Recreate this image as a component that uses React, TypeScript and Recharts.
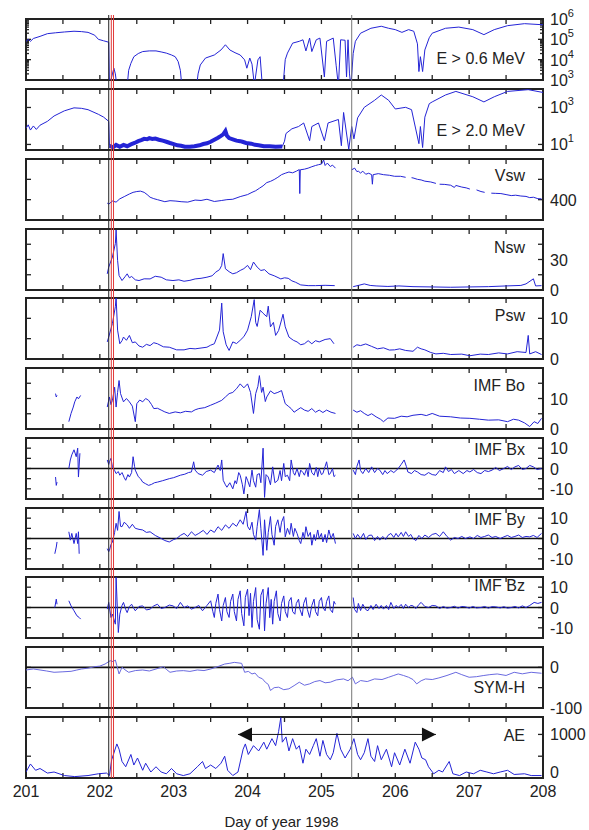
import React from 'react';
import { LineChart, Line, XAxis, YAxis, ReferenceLine, ReferenceDot, ReferenceArea } from 'recharts';

type Pt = [number, number | null];

// ---------- x axis ----------
const dayTicks = [201, 201.5, 202, 202.5, 203, 203.5, 204, 204.5, 205, 205.5, 206, 206.5, 207, 207.5, 208];
const dayLabels = [201, 202, 203, 204, 205, 206, 207, 208];

// ---------- event markers (day of year) ----------
const shockLine = 202.12;
const redLines = [202.155, 202.185];
const grayLine = 205.41;
const aeArrow = { from: 203.87, to: 206.55, level: 1000 };

// ---------- series ----------
const e06: Pt[] = [
  [201.0, 7.9e4], [201.03, 1.0e5], [201.06, 8e4], [201.1, 1.1e5], [201.19, 1.4e5], [201.29, 1.9e5], [201.4, 2.1e5],
  [201.52, 2.3e5], [201.65, 2.5e5], [201.75, 2.4e5], [201.84, 2.2e5], [201.93, 1.6e5], [201.98, 1.0e5], [202.05, 8.5e4],
  [202.12, 7.2e4], [202.13, 500], [202.17, 2.0e3], [202.19, 3.8e3], [202.21, 2.0e3], [202.23, 500], [202.37, 500],
  [202.39, 3.0e3], [202.42, 6.6e3], [202.46, 1.4e4], [202.52, 2.0e4], [202.58, 2.5e4], [202.67, 2.7e4], [202.76, 2.7e4],
  [202.83, 2.4e4], [202.9, 2.1e4], [202.97, 1.7e4], [203.02, 1.4e4], [203.06, 8.1e3], [203.09, 3e3], [203.11, 500],
  [203.31, 500], [203.33, 2.0e3], [203.36, 5.5e3], [203.43, 1.2e4], [203.55, 1.7e4], [203.64, 3.0e4], [203.7, 5.4e4],
  [203.76, 3.0e4], [203.83, 2.2e4], [203.9, 1.7e4], [203.96, 9.8e3], [203.99, 3.8e3], [204.03, 1.2e4], [204.06, 6e3],
  [204.08, 1.4e3], [204.09, 500], [204.14, 9.8e3], [204.17, 1.4e4], [204.2, 500], [204.48, 500], [204.51, 1e4],
  [204.54, 2.1e4], [204.61, 6.5e4], [204.7, 8e4], [204.75, 9.5e4], [204.79, 2.7e4], [204.84, 1.15e5], [204.87, 2.5e4],
  [204.93, 9.5e4], [204.98, 1.15e5], [205.04, 1.4e3], [205.07, 8e4], [205.16, 1.15e5], [205.2, 5e3], [205.23, 500],
  [205.26, 9.5e4], [205.32, 9e4], [205.34, 1.4e3], [205.36, 9.5e4], [205.38, 2e3], [205.4, 500], [205.43, 2e4],
  [205.46, 8e4], [205.53, 2.0e5], [205.67, 3.5e5], [205.81, 4.4e5], [205.91, 3.5e5], [206.0, 3.0e5], [206.09, 2.2e5],
  [206.18, 3.0e5], [206.25, 2.5e5], [206.3, 6e4], [206.32, 2.6e3], [206.34, 1.4e4], [206.37, 2.6e3], [206.4, 3e4],
  [206.46, 1.2e5], [206.5, 2.0e5], [206.68, 3.5e5], [206.86, 4.0e5], [207.05, 3.0e5], [207.2, 1.7e5], [207.34, 3.0e5],
  [207.52, 4.7e5], [207.75, 5.9e5], [208.0, 5.2e5],
];

const e20: Pt[] = [
  [201.0, 74], [201.03, 115], [201.06, 60], [201.1, 100], [201.14, 65], [201.19, 110], [201.29, 178], [201.38, 347],
  [201.52, 660], [201.65, 955], [201.75, 900], [201.84, 760], [201.98, 427], [202.05, 302], [202.12, 178], [202.13, 8.5],
  [202.14, null],
  [204.47, 7.7], [204.5, 15], [204.52, 39], [204.6, 70], [204.69, 93], [204.76, 145], [204.84, 16], [204.87, 93],
  [204.96, 145], [205.04, 16], [205.09, 145], [205.23, 224], [205.27, 8.5], [205.3, 537], [205.37, 5.5], [205.41, 93],
  [205.44, 20], [205.49, 275], [205.58, 1020], [205.72, 2450], [205.81, 4750], [205.91, 2450], [206.0, 830],
  [206.14, 1020], [206.22, 760], [206.32, 11], [206.34, 93], [206.37, 6.8], [206.4, 300], [206.46, 1600], [206.5, 2000],
  [206.68, 4750], [206.82, 7400], [207.05, 3800], [207.2, 2000], [207.34, 3800], [207.52, 7400], [207.8, 9200],
  [208.0, 6500],
];

const e20Floor: Pt[] = [
  [202.13, 8.5], [202.18, 7], [202.22, 9.5], [202.27, 7.5], [202.32, 9.5], [202.37, 8], [202.42, 10], [202.47, 12],
  [202.52, 15], [202.56, 17], [202.6, 20], [202.64, 19], [202.67, 22], [202.71, 20], [202.75, 21], [202.8, 18],
  [202.85, 16], [202.9, 14], [202.95, 12], [203.0, 10.5], [203.05, 9], [203.1, 8.5], [203.15, 7.5], [203.22, 7.4],
  [203.28, 8], [203.35, 9], [203.4, 10.5], [203.45, 11.5], [203.5, 14], [203.55, 18], [203.6, 23], [203.64, 29],
  [203.67, 35], [203.7, 53], [203.72, 30], [203.75, 22], [203.8, 19], [203.85, 16], [203.9, 15], [203.93, 14],
  [203.98, 12], [204.05, 11], [204.1, 9.5], [204.15, 9.1], [204.22, 8], [204.3, 8], [204.38, 7.5], [204.47, 7.7],
];

const vsw: Pt[] = [
  [202.1, 383], [202.12, 378], [202.17, 393], [202.22, 388], [202.27, 404], [202.33, 415], [202.4, 428], [202.45, 436],
  [202.5, 440], [202.55, 442], [202.6, 436], [202.64, 425], [202.68, 412], [202.73, 405], [202.78, 400], [202.88, 390],
  [202.95, 395], [203.03, 393], [203.1, 390], [203.19, 388], [203.29, 398], [203.37, 396], [203.45, 402], [203.55, 391],
  [203.65, 396], [203.72, 400], [203.8, 402], [203.9, 415], [204.0, 425], [204.06, 436], [204.11, 444], [204.16, 456],
  [204.21, 468], [204.26, 484], [204.31, 490], [204.36, 499], [204.41, 510], [204.46, 523], [204.51, 530], [204.56, 536],
  [204.61, 532], [204.66, 540], [204.7, 548], [204.707, 430], [204.714, 547], [204.77, 550], [204.82, 555], [204.87, 562],
  [204.92, 568], [204.96, 572], [205.0, 575], [205.03, 595], [205.05, 568], [205.08, 580], [205.12, 563], [205.15, 570],
  [205.19, 555], [205.2, null], [205.41, 547], [205.45, 555], [205.48, 538], [205.5, 540], [205.53, 531], [205.56, 540],
  [205.6, 525], [205.64, 530], [205.68, 523], [205.69, 476], [205.7, 523], [205.77, 528], [205.84, 523], [205.92, 520],
  [205.99, 515], [206.07, 515], [206.14, 510], [206.2, null], [206.22, 508], [206.24, 507], [206.3, 500], [206.35, 497],
  [206.4, 491], [206.48, 487], [206.55, 480], [206.57, null], [206.6, 476], [206.67, 475], [206.75, 471], [206.8, 460],
  [206.82, 470], [206.9, 462], [206.96, 458], [207.01, 452], [207.05, null], [207.1, 448], [207.16, 440], [207.21, 436],
  [207.25, null], [207.3, 432], [207.36, 431], [207.43, 430], [207.5, 425], [207.57, 420], [207.63, 422], [207.7, 418],
  [207.77, 416], [207.82, 410], [207.87, 412], [207.93, 405], [207.98, 404],
];

const nsw: Pt[] = [
  [202.1, 15.9], [202.12, 22.5], [202.17, 32.5], [202.21, 45.7], [202.22, 59], [202.24, 29.2], [202.26, 14.3],
  [202.3, 9.3], [202.34, 13], [202.37, 15.9], [202.4, 12], [202.43, 13.3], [202.48, 10], [202.53, 9.3], [202.6, 11],
  [202.68, 10.9], [202.75, 13.5], [202.83, 12.6], [202.9, 10], [202.99, 9.3], [203.07, 10], [203.14, 8.6], [203.22, 9.5],
  [203.29, 10.9], [203.37, 11.5], [203.45, 12.6], [203.52, 14], [203.57, 17.6], [203.62, 20], [203.65, 24.2],
  [203.67, 35.8], [203.7, 20.9], [203.75, 18], [203.8, 15.9], [203.85, 17], [203.9, 19.2], [203.95, 21], [204.0, 24.2],
  [204.04, 20], [204.08, 27.5], [204.13, 22.5], [204.18, 19.2], [204.23, 20], [204.29, 15.9], [204.36, 14],
  [204.45, 10.9], [204.5, 12], [204.55, 11.5], [204.6, 9], [204.65, 7.6], [204.72, 5.0], [204.82, 4.3], [204.92, 4.3],
  [205.05, 4.6], [205.18, 4.3], [205.2, null], [205.43, 3.3], [205.5, 4.5], [205.58, 6.0], [205.66, 4.5], [205.74, 4.0],
  [205.9, 3.5], [206.05, 4], [206.24, 3.3], [206.5, 3], [206.75, 2.7], [207.0, 3], [207.26, 3.3], [207.5, 4],
  [207.7, 4.5], [207.77, 6.0], [207.87, 11], [207.9, 4.0], [207.98, 4.3],
];

const psw: Pt[] = [
  [202.1, 4.2], [202.12, 5.4], [202.17, 8.75], [202.21, 12.9], [202.22, 15.2], [202.24, 7.1], [202.27, 3.75],
  [202.3, 4.5], [202.32, 5.4], [202.36, 4.6], [202.4, 5.8], [202.44, 4], [202.48, 4.2], [202.53, 3.2], [202.58, 2.9],
  [202.63, 3.6], [202.68, 3.3], [202.73, 4], [202.78, 3.75], [202.86, 3], [202.94, 2.9], [203.04, 2.25], [203.14, 2.25],
  [203.22, 2.6], [203.29, 2.5], [203.37, 2.7], [203.45, 2.9], [203.5, 3.4], [203.55, 3.75], [203.62, 7.1],
  [203.65, 13.75], [203.67, 6.7], [203.71, 3.5], [203.75, 2.1], [203.8, 4.2], [203.85, 3.8], [203.9, 4.6], [203.95, 5.5],
  [204.0, 7.1], [204.05, 10.4], [204.09, 14.6], [204.11, 9], [204.13, 8], [204.17, 12], [204.21, 11.25], [204.26, 10.4],
  [204.28, 13], [204.31, 7.9], [204.35, 9], [204.38, 5.8], [204.42, 7], [204.46, 9.6], [204.48, 11], [204.51, 7.9],
  [204.56, 5.4], [204.62, 4.6], [204.67, 4.2], [204.72, 3.5], [204.77, 3.75], [204.82, 4.5], [204.87, 3.75],
  [204.92, 4.5], [204.97, 4.2], [205.05, 4.8], [205.12, 5.0], [205.17, 3.75], [205.2, null], [205.43, 2.9],
  [205.48, 3.5], [205.53, 3.3], [205.6, 3.7], [205.68, 3.1], [205.76, 2.5], [205.84, 2.75], [205.92, 2.2],
  [205.99, 2.25], [206.06, 2.5], [206.14, 2.1], [206.24, 1.9], [206.3, 2.9], [206.35, 2.5], [206.4, 2.25], [206.48, 1.6],
  [206.55, 1.25], [206.65, 1.4], [206.75, 1.1], [206.9, 1.2], [207.01, 0.8], [207.15, 1.2], [207.26, 1.1], [207.4, 1.5],
  [207.52, 1.25], [207.65, 1.8], [207.77, 1.6], [207.8, 5.8], [207.82, 1.25], [207.9, 1.8], [207.98, 1.1],
];

const imfBo: Pt[] = [
  [201.4, 11.6], [201.41, 10.5], [201.42, 11.0], [201.45, null],
  [201.58, 2.4], [201.61, 5.1], [201.64, 7.2], [201.66, 8.9], [201.69, 10.5], [201.71, 9.9], [201.74, 11.0], [201.76, null],
  [202.1, 7.2], [202.13, 10.5], [202.15, 8], [202.17, 9.4], [202.2, 13.7], [202.22, 7.2], [202.24, 12], [202.26, 15.9],
  [202.28, 11.6], [202.32, 8.9], [202.36, 10], [202.4, 8.9], [202.44, 7.5], [202.48, 2.4], [202.5, 8.3], [202.54, 9.5],
  [202.58, 8.9], [202.62, 10], [202.66, 9.4], [202.7, 8], [202.73, 6.7], [202.78, 6.8], [202.83, 6.2], [202.88, 5.6],
  [202.94, 5.1], [203.02, 5.6], [203.09, 5.3], [203.16, 5.8], [203.24, 5.6], [203.29, 6.3], [203.34, 6.7], [203.42, 7],
  [203.5, 7.8], [203.57, 8.5], [203.65, 9.4], [203.7, 10.5], [203.75, 11.6], [203.8, 12], [203.85, 13.2], [203.9, 14.8],
  [203.95, 13.5], [204.0, 14.8], [204.04, 12], [204.08, 5.1], [204.11, 11.6], [204.14, 14], [204.16, 17.5], [204.19, 12],
  [204.21, 13.7], [204.24, 9], [204.26, 10.5], [204.31, 12.5], [204.36, 11.6], [204.41, 12], [204.46, 12.6], [204.49, 10],
  [204.51, 8.3], [204.55, 7.5], [204.59, 6.7], [204.63, 5.5], [204.67, 6.2], [204.72, 7], [204.77, 6.2], [204.82, 5.8],
  [204.87, 6.7], [204.92, 5.5], [204.97, 6.2], [205.02, 5.4], [205.07, 6.2], [205.13, 5.5], [205.19, 5.1], [205.2, null],
  [205.43, 6.2], [205.48, 5.5], [205.53, 6], [205.58, 5.1], [205.63, 4.4], [205.68, 5], [205.74, 4.0], [205.8, 3.2],
  [205.84, 2.4], [205.9, 3.6], [205.99, 3.5], [206.08, 4.2], [206.16, 4], [206.24, 4.5], [206.35, 4.8], [206.42, 4.4],
  [206.5, 5.1], [206.6, 4.2], [206.75, 4.0], [206.88, 3.6], [207.01, 3.5], [207.14, 3.2], [207.26, 2.9], [207.4, 3],
  [207.52, 2.4], [207.6, 3.2], [207.67, 2.9], [207.75, 2], [207.82, 0.8], [207.88, 2.4], [207.93, 1.8], [207.98, 3.5],
];

const imfBx: Pt[] = [
  [201.4, -4.2], [201.41, -8.3], [201.42, -6.7], [201.45, null],
  [201.58, 0], [201.6, 4.2], [201.62, 6.7], [201.65, 9.2], [201.68, 5.8], [201.7, 10], [201.71, -4.2], [201.73, 7.5],
  [201.76, null],
  [202.1, 4.2], [202.12, 2], [202.13, 3.3], [202.15, 5], [202.17, 0.8], [202.2, -1], [202.22, -2.5], [202.25, -1.5],
  [202.27, -3.3], [202.3, -2], [202.33, -4.5], [202.35, -5.8], [202.38, -3], [202.4, -4.2], [202.43, -2], [202.45, 5.8],
  [202.47, 1], [202.48, -0.8], [202.52, -4], [202.55, -5], [202.58, -6.7], [202.62, -7.5], [202.66, -8.3], [202.7, -7.8],
  [202.74, -7], [202.78, -6.7], [202.85, -6], [202.94, -5], [203.0, -4.5], [203.09, -3.3], [203.15, -2.8], [203.2, -2],
  [203.24, -1.7], [203.27, 3.3], [203.29, -0.8], [203.33, -2.5], [203.39, -3.3], [203.44, -1.5], [203.5, -0.8],
  [203.55, -2], [203.6, 1.7], [203.63, -1], [203.65, 4.2], [203.67, -5.8], [203.7, -8], [203.72, -9.2], [203.76, -7],
  [203.8, -10], [203.83, -6], [203.85, -7.5], [203.88, -2], [203.9, -3.3], [203.93, -8], [203.95, -12.5], [203.98, -4],
  [204.0, -5.8], [204.03, -9], [204.06, -0.8], [204.08, -6], [204.11, -9.2], [204.13, -3], [204.16, -2.5], [204.18, -7],
  [204.21, 10], [204.23, -14.2], [204.25, -3], [204.28, -4.2], [204.31, -8], [204.34, 0.8], [204.37, -7], [204.41, -5.8],
  [204.44, -1], [204.46, -6], [204.49, 2.5], [204.51, -4], [204.54, -3.3], [204.57, -6], [204.59, 4.2], [204.62, -2],
  [204.64, -3.3], [204.67, 0], [204.7, -4], [204.72, -0.8], [204.75, -2], [204.77, -3.3], [204.8, 0], [204.82, -4],
  [204.84, 2.5], [204.87, -2], [204.9, -3.3], [204.93, 0.5], [204.95, -4], [204.97, 0], [205.0, -3], [205.02, -2.5],
  [205.05, 1], [205.07, 3.3], [205.1, -3], [205.12, -2.5], [205.15, 0], [205.17, -4], [205.19, -3.3], [205.2, null],
  [205.43, -0.8], [205.46, -3], [205.48, 1], [205.51, 4.2], [205.53, -1], [205.56, -2.5], [205.6, 0], [205.64, -2],
  [205.68, 0.8], [205.72, -2], [205.76, 0], [205.79, -0.8], [205.83, -3], [205.86, -1], [205.89, -2.5], [205.94, -1],
  [205.98, -2], [206.04, 0], [206.08, 2], [206.12, 4.2], [206.15, 1], [206.17, -1.7], [206.22, -2.5], [206.26, -1],
  [206.3, -1.7], [206.35, -3], [206.4, -3.3], [206.45, -2], [206.5, -3], [206.55, -3.3], [206.6, -1], [206.65, -2],
  [206.68, 0.8], [206.72, -1.5], [206.76, -0.5], [206.8, -2.5], [206.86, -1], [206.92, -2.5], [206.97, -1],
  [207.01, -1.7], [207.06, -0.5], [207.11, -2], [207.16, -2.5], [207.21, -1], [207.26, -1.5], [207.31, -0.8],
  [207.36, 0.5], [207.41, -1], [207.47, 0], [207.52, 1], [207.57, -0.5], [207.62, 0.8], [207.67, 1.5], [207.72, -0.5],
  [207.77, 0], [207.82, 1.5], [207.87, 0.8], [207.92, -0.5], [207.98, 0],
];

const imfBy: Pt[] = [
  [201.39, -7.5], [201.41, -4.2], [201.42, -1.7], [201.45, null],
  [201.58, 3.3], [201.6, -0.8], [201.62, 2.5], [201.65, -2.5], [201.68, 2.5], [201.7, -2.5], [201.71, 3.3],
  [201.72, -7.5], [201.76, null],
  [202.1, -5], [202.12, -6.5], [202.13, -5.8], [202.15, -3], [202.17, -1.7], [202.2, 3], [202.22, 7.5], [202.24, 4],
  [202.26, 13.3], [202.28, 6], [202.3, 5.8], [202.33, 8], [202.37, 6.7], [202.4, 5], [202.44, 7], [202.48, 5],
  [202.53, 4.5], [202.58, 4.2], [202.63, 3], [202.68, 3.3], [202.75, 1.5], [202.83, 0], [202.88, -1], [202.94, -1.7],
  [203.0, -0.5], [203.04, 0], [203.09, 1.5], [203.14, 2.5], [203.19, 1], [203.24, 3.3], [203.29, 1.5], [203.34, 2.5],
  [203.4, 4], [203.45, 2], [203.5, 4.2], [203.55, 3], [203.6, 5.8], [203.65, 4], [203.7, 6.7], [203.75, 5], [203.8, 7.5],
  [203.85, 6], [203.9, 9.2], [203.94, 7], [203.98, 13.3], [204.0, 6], [204.03, 4.2], [204.06, 8], [204.08, 2],
  [204.11, -0.8], [204.13, 6], [204.16, 14.2], [204.18, 5], [204.21, -8.3], [204.23, 9.2], [204.26, -5.8], [204.28, 3],
  [204.31, 10.8], [204.33, 2], [204.36, -3.3], [204.38, 6], [204.41, 9.2], [204.44, 3], [204.46, 8], [204.49, 10.8],
  [204.51, 0.8], [204.54, 5], [204.57, 2], [204.59, 7.5], [204.62, 1], [204.64, 5], [204.67, 2.5], [204.7, -1],
  [204.72, -2.5], [204.75, 3], [204.77, 0], [204.79, 5.8], [204.82, 1], [204.85, 3], [204.87, -3.3], [204.9, 2],
  [204.92, -1], [204.95, 4.2], [204.97, 0], [205.0, 2.5], [205.02, -1.7], [205.05, 2], [205.07, -2], [205.1, 4.2],
  [205.13, 0], [205.16, 2.5], [205.19, -2.5], [205.2, null],
  [205.43, 2.5], [205.46, 0], [205.49, 2], [205.53, 0], [205.57, 2.5], [205.6, -0.5], [205.64, 1.5], [205.68, 1.7],
  [205.72, -1], [205.76, 1], [205.79, -0.8], [205.83, 1], [205.87, -0.5], [205.9, 1.5], [205.94, 2.5], [205.98, 0.5],
  [206.01, 2.5], [206.04, 0.8], [206.08, 3], [206.11, 1], [206.14, 3.3], [206.18, 1], [206.21, 2], [206.24, 0],
  [206.28, -1], [206.32, 1.5], [206.36, 0], [206.4, 1.7], [206.45, 0.5], [206.5, 2], [206.55, 2.5], [206.6, 1],
  [206.65, 3.3], [206.7, 1], [206.75, -0.8], [206.8, 0.5], [206.85, 0], [206.9, 1], [206.95, 0], [207.01, 0.8],
  [207.06, 0], [207.11, 1.5], [207.16, 0.5], [207.21, 1], [207.26, 1.7], [207.31, 0.5], [207.36, 1], [207.42, 0],
  [207.47, 0.8], [207.52, 1.5], [207.57, 0.5], [207.62, 1], [207.67, 1.7], [207.72, 0.5], [207.77, 1], [207.82, 0.8],
  [207.87, 1.5], [207.92, 0.5], [207.98, 2.5],
];

const imfBz: Pt[] = [
  [201.39, 0], [201.41, 4.1], [201.42, 1.6], [201.45, null],
  [201.58, 3.3], [201.61, 0.8], [201.65, -1.6], [201.69, -4.1], [201.72, -4.9], [201.74, -5.7], [201.76, null],
  [202.1, -0.8], [202.12, 2.5], [202.15, -4.9], [202.17, -3.3], [202.21, -8.2], [202.22, 14.8], [202.25, -12.3],
  [202.27, -3.3], [202.3, 1], [202.32, 2.5], [202.35, -1], [202.37, -2.5], [202.4, 0.5], [202.43, 1.6], [202.46, -0.5],
  [202.48, -1.6], [202.53, 0.5], [202.58, 0.8], [202.63, -1.2], [202.68, -0.8], [202.73, 0.8], [202.78, 1.6],
  [202.83, -0.5], [202.88, 0], [202.94, 1.2], [202.99, 0.8], [203.04, -0.5], [203.09, 2.5], [203.14, 0], [203.19, 0.8],
  [203.24, -0.8], [203.29, 0], [203.34, 1], [203.39, -1.6], [203.45, 1], [203.5, 3.3], [203.53, -2], [203.55, -4.9],
  [203.57, 2], [203.6, 6.6], [203.62, -1], [203.65, -6.6], [203.67, 1], [203.7, 4.9], [203.72, -2], [203.75, -4.9],
  [203.77, 3], [203.8, 6.6], [203.82, -2], [203.85, -6.6], [203.87, 4], [203.9, 8.2], [203.92, -3], [203.95, -9],
  [203.97, 5], [204.0, 9], [204.02, -4], [204.04, 7], [204.06, -9.8], [204.08, 3], [204.11, 9.8], [204.13, -6],
  [204.16, -10.7], [204.18, 6], [204.21, 9], [204.23, -11.5], [204.25, 2], [204.28, 9.8], [204.3, -5], [204.32, 4],
  [204.34, -8.2], [204.36, 3], [204.39, 8.2], [204.41, -3], [204.44, -6.6], [204.46, 2], [204.49, 5.7], [204.51, -2],
  [204.54, -4.9], [204.56, 3], [204.59, 4.9], [204.61, -2], [204.64, -3.3], [204.66, 2], [204.69, 4.1], [204.71, -1],
  [204.74, -4.1], [204.76, 2], [204.79, 4.9], [204.81, -1], [204.84, -4.9], [204.87, 1], [204.9, 4.1], [204.92, -2],
  [204.95, -4.1], [204.97, 3], [205.0, 4.9], [205.02, 0], [205.05, -1.6], [205.07, 3], [205.1, 5.7], [205.12, -1],
  [205.15, -2.5], [205.17, 3], [205.19, 1.6], [205.2, null],
  [205.43, 4.9], [205.45, -1], [205.48, -2.5], [205.5, 2], [205.53, -1.5], [205.56, 1.6], [205.6, -1], [205.63, -1.6],
  [205.67, 1], [205.7, -1], [205.74, 1.6], [205.78, -0.5], [205.81, 1], [205.84, -0.8], [205.88, 1], [205.91, -1],
  [205.94, 2.5], [205.98, -0.5], [206.01, 1], [206.04, 0], [206.08, 1.5], [206.11, -0.5], [206.14, 1.6], [206.18, 0],
  [206.21, 1], [206.24, 0.8], [206.28, -0.5], [206.32, 1.5], [206.35, 2.5], [206.4, 0.5], [206.45, 0], [206.5, 1],
  [206.55, 0.8], [206.6, -0.5], [206.65, 0.5], [206.7, -0.3], [206.75, 0], [206.8, 0.6], [206.85, -0.3], [206.9, 0.5],
  [206.95, 0.3], [207.0, -0.3], [207.05, 0.5], [207.1, -0.2], [207.16, 0], [207.21, 0.5], [207.26, -0.3], [207.31, 0.4],
  [207.36, 0.3], [207.42, -0.2], [207.47, 0.4], [207.52, -0.3], [207.57, 0], [207.62, 0.5], [207.67, -0.2],
  [207.72, 0.8], [207.77, 0], [207.82, 1], [207.88, 2.5], [207.93, 2.0], [207.98, 2.5],
];

const symH: Pt[] = [
  [201.0, -6.5], [201.1, -4], [201.19, -6.5], [201.28, -9], [201.38, -12.2], [201.5, -11], [201.61, -9.8], [201.68, -7],
  [201.75, -4.1], [201.84, -2], [201.93, 1.6], [202.0, 3], [202.07, 8.1], [202.14, 16.3], [202.18, 14], [202.21, 17.9],
  [202.23, 4.1], [202.26, -16.3], [202.3, 0], [202.34, -6], [202.39, -12.2], [202.48, -8], [202.58, -6.5], [202.67, -9],
  [202.76, -4.1], [202.86, 1.6], [202.9, -5], [202.95, -12.2], [203.04, -9], [203.13, -8.1], [203.22, -10], [203.32, -6.5],
  [203.41, -8], [203.5, -4.1], [203.6, 2], [203.69, 8.1], [203.76, 10], [203.82, 12.2], [203.92, 9.8], [203.96, -12.2],
  [204.01, -10], [204.06, -16.3], [204.1, -14], [204.15, -24.4], [204.2, -28], [204.24, -36.6], [204.28, -42],
  [204.31, -56.9], [204.36, -50], [204.42, -48.8], [204.49, -55], [204.56, -52.8], [204.63, -45], [204.7, -36.6],
  [204.77, -44], [204.84, -40.7], [204.91, -35], [204.98, -32.5], [205.05, -38], [205.12, -36.6], [205.2, -31],
  [205.3, -28.5], [205.36, -33], [205.42, -24.4], [205.46, -40.7], [205.53, -32.5], [205.62, -35], [205.72, -28.5],
  [205.82, -30], [205.91, -24.4], [205.98, -20], [206.04, -16.3], [206.11, -20], [206.18, -24.4], [206.24, -30],
  [206.29, -40.7], [206.35, -33], [206.41, -28.5], [206.5, -30], [206.59, -26], [206.7, -20], [206.82, -12.2],
  [206.9, -18], [207.0, -24.4], [207.1, -23], [207.19, -20.3], [207.28, -18], [207.38, -16.3], [207.5, -20],
  [207.61, -12.2], [207.72, -16], [207.84, -12.2], [207.98, -14.6],
];

const ae: Pt[] = [
  [201.0, 137], [201.06, 322], [201.13, 177], [201.19, 218], [201.29, 113], [201.38, 137], [201.52, 56], [201.66, 32],
  [201.84, 56], [201.98, 97], [202.09, 113], [202.13, 56], [202.16, 419], [202.23, 782], [202.26, 661], [202.3, 379],
  [202.35, 258], [202.42, 540], [202.46, 298], [202.51, 459], [202.58, 177], [202.62, 339], [202.69, 137],
  [202.76, 258], [202.83, 137], [202.9, 97], [202.97, 218], [203.04, 97], [203.13, 56], [203.22, 97], [203.32, 258],
  [203.39, 379], [203.43, 218], [203.5, 298], [203.57, 218], [203.64, 339], [203.69, 500], [203.73, 177], [203.8, 56],
  [203.87, 137], [203.94, 661], [203.97, 782], [204.01, 540], [204.08, 742], [204.15, 621], [204.22, 822],
  [204.26, 661], [204.33, 903], [204.38, 742], [204.42, 1064], [204.45, 1386], [204.47, 822], [204.52, 943],
  [204.56, 621], [204.61, 903], [204.66, 661], [204.7, 742], [204.75, 339], [204.79, 661], [204.84, 540],
  [204.89, 742], [204.93, 903], [204.98, 500], [205.02, 862], [205.07, 540], [205.12, 419], [205.16, 580],
  [205.21, 1024], [205.26, 661], [205.32, 459], [205.39, 661], [205.44, 903], [205.49, 540], [205.53, 419],
  [205.58, 580], [205.63, 903], [205.67, 500], [205.72, 379], [205.76, 742], [205.81, 419], [205.88, 661],
  [205.95, 258], [205.99, 580], [206.06, 298], [206.13, 661], [206.2, 339], [206.27, 822], [206.32, 661],
  [206.36, 459], [206.41, 419], [206.45, 258], [206.52, 97], [206.59, 177], [206.64, 137], [206.73, 379], [206.78, 97],
  [206.87, 56], [206.96, 137], [207.06, 97], [207.15, 177], [207.24, 137], [207.33, 97], [207.42, 137], [207.52, 177],
  [207.61, 81], [207.75, 97], [207.84, 56], [207.98, 56],
];

// ---------- axis ticks & labels ----------
const e06Ticks = [
  1e3, 2e3, 3e3, 4e3, 5e3, 6e3, 7e3, 8e3, 9e3, 1e4, 2e4, 3e4, 4e4, 5e4, 6e4, 7e4, 8e4, 9e4,
  1e5, 2e5, 3e5, 4e5, 5e5, 6e5, 7e5, 8e5, 9e5, 1e6,
];
const e06Labels = [1e3, 1e4, 1e5, 1e6];
const e20Ticks = [10, 1000];
const e20Labels = [10, 1000];
const bTicks = [-10, -5, 0, 5, 10];

const FONT = '"Liberation Sans", Arial, Helvetica, sans-serif';
const INK = '#222';
const BLUE = '#2424d6';
const PLOT_LEFT = 26;
const PLOT_RIGHT_GAP = 46;
const PANEL_H = 61;
const R_MARGIN = 7;
const X_MARGIN = 7;
const X_MIN = 201;
const X_MAX = 208;

const toRows = (arr: Pt[]) => arr.map(([t, v]) => ({ t, v }));
const isPow10 = (v: number) => Math.abs(Math.log10(v) - Math.round(Math.log10(v))) < 1e-6;

// right y axis labels (outside the frame)
const RightLabel = (labels: number[], opts: { pow?: boolean; shift?: Record<string, number> } = {}) =>
  (props: any) => {
    const { x, y, payload } = props;
    const v = payload.value;
    if (!labels.includes(v)) return <g />;
    const s = (opts.shift && opts.shift[String(v)]) || 0;
    if (opts.pow) {
      const exp = Math.round(Math.log10(v));
      return (
        <text x={x} y={y} dy={6} fill={INK} fontSize={16} fontFamily={FONT} textAnchor="start">
          <tspan>10</tspan>
          <tspan dy={-8} fontSize={11}>{exp}</tspan>
        </text>
      );
    }
    return (
      <text x={x} y={y + s} dy={6} fill={INK} fontSize={16} fontFamily={FONT} textAnchor="start">
        {String(v)}
      </text>
    );
  };

const BottomLabel = (props: any) => {
  const { x, y, payload } = props;
  if (!dayLabels.includes(payload.value)) return <g />;
  return (
    <text x={x} y={y} dy="0.75em" textAnchor="middle" fill={INK} fontSize={16} fontFamily={FONT}>
      {String(payload.value)}
    </text>
  );
};

// frame of a panel, drawn on the rectangle the library computed for the full domain,
// with inward tick marks placed along it at the tick values
const FrameShape = (domain: [number, number], ticks: number[], log?: boolean) => (props: any) => {
  const px = Math.min(props.x, props.x + props.width);
  const py = Math.min(props.y, props.y + props.height);
  const w = Math.abs(props.width);
  const h = Math.abs(props.height);
  const [lo, hi] = domain;
  const fy = (v: number) =>
    log ? (Math.log10(hi) - Math.log10(v)) / (Math.log10(hi) - Math.log10(lo)) : (hi - v) / (hi - lo);
  const fx = (d: number) => (d - X_MIN) / (X_MAX - X_MIN);
  const segs: React.ReactNode[] = [];
  dayTicks.forEach((d) => {
    const xx = px + fx(d) * w;
    segs.push(<line key={`b${d}`} x1={xx} x2={xx} y1={py + h} y2={py + h - 5} stroke={INK} strokeWidth={1.3} />);
    segs.push(<line key={`t${d}`} x1={xx} x2={xx} y1={py} y2={py + 5} stroke={INK} strokeWidth={1.3} />);
  });
  ticks.forEach((v) => {
    const yy = py + fy(v) * h;
    const len = log && !isPow10(v) ? 3 : 5;
    segs.push(<line key={`l${v}`} x1={px} x2={px + len} y1={yy} y2={yy} stroke={INK} strokeWidth={1.3} />);
    segs.push(<line key={`r${v}`} x1={px + w} x2={px + w - len} y1={yy} y2={yy} stroke={INK} strokeWidth={1.3} />);
  });
  return (
    <g>
      {segs}
      <rect x={px} y={py} width={w} height={h} fill="none" stroke={INK} strokeWidth={2} />
    </g>
  );
};

type PanelProps = {
  top: number;
  data: Pt[];
  domain: [number, number];
  log?: boolean;
  ticks: number[];
  tick: (p: any) => any;
  zero?: boolean;
  showX?: boolean;
  lineColor?: string;
  children?: React.ReactNode;
};

function Panel({ top, data, domain, log, ticks, tick, zero, showX, lineColor, children }: PanelProps) {
  const mTop = 16;
  const mBottom = showX ? 40 : 12;
  const bottomAxisH = showX ? 30 : 1;
  const scale = log ? 'log' : 'linear';
  const [lo, hi] = domain;
  return (
    <div style={{ position: 'absolute', left: 0, top: top - mTop }}>
      <LineChart
        width={589}
        height={PANEL_H + mTop + mBottom}
        data={toRows(data)}
        margin={{ top: mTop, bottom: mBottom - bottomAxisH, left: 0, right: 0 }}
      >
        <XAxis xAxisId="b" dataKey="t" type="number" domain={[X_MIN, X_MAX]} ticks={showX ? dayLabels : dayTicks}
          orientation="bottom" height={bottomAxisH} tickSize={0} tickMargin={X_MARGIN} axisLine={false} tickLine={false}
          tick={showX ? BottomLabel : false} allowDataOverflow interval={0} />
        <YAxis yAxisId="l" orientation="left" width={PLOT_LEFT} scale={scale} domain={domain} ticks={ticks}
          interval={0} allowDataOverflow axisLine={false} tickLine={false} tick={false} />
        <YAxis yAxisId="r" orientation="right" width={PLOT_RIGHT_GAP} scale={scale} domain={domain} ticks={ticks}
          interval={0} allowDataOverflow tickSize={0} tickMargin={R_MARGIN} axisLine={false} tickLine={false} tick={tick} />
        {zero && <ReferenceLine xAxisId="b" yAxisId="l" y={0} stroke="#111" strokeWidth={1.6} />}
        <Line
          xAxisId="b"
          yAxisId="l"
          dataKey="v"
          type="linear"
          stroke={lineColor || BLUE}
          strokeWidth={1}
          dot={false}
          connectNulls={false}
          isAnimationActive={false}
        />
        {children}
        <ReferenceArea
          xAxisId="b"
          yAxisId="l"
          x1={X_MIN}
          x2={X_MAX}
          y1={lo}
          y2={hi}
          fill="none"
          fillOpacity={0}
          stroke={INK}
          strokeWidth={2}
          ifOverflow="visible"
          shape={FrameShape(domain, ticks, log)}
        />
      </LineChart>
    </div>
  );
}

const panelTops = [19, 89, 159, 229, 298, 368, 438, 508, 577, 647, 717];

const panelNames = [
  { text: 'E > 0.6 MeV', cy: 59 },
  { text: 'E > 2.0 MeV', cy: 131 },
  { text: 'Vsw', cy: 176 },
  { text: 'Nsw', cy: 248 },
  { text: 'Psw', cy: 316 },
  { text: 'IMF Bo', cy: 386 },
  { text: 'IMF Bx', cy: 450 },
  { text: 'IMF By', cy: 520 },
  { text: 'IMF Bz', cy: 586 },
  { text: 'SYM-H', cy: 688 },
  { text: 'AE', cy: 736 },
];

const arrowHead = (dir: 'left' | 'right') => (props: any) => {
  const { cx, cy } = props;
  const w = dir === 'left' ? 14 : -14;
  return <polygon points={`${cx},${cy} ${cx + w},${cy - 7} ${cx + w},${cy + 7}`} fill="#111" />;
};

export default function App() {
  return (
    <div
      style={{
        position: 'absolute',
        left: 0,
        top: 0,
        width: 589,
        height: 830,
        background: '#fff',
        fontFamily: FONT,
        overflow: 'hidden',
      }}
    >
      <Panel top={panelTops[0]} data={e06} domain={[1e3, 1e6]} log ticks={e06Ticks}
        tick={RightLabel(e06Labels, { pow: true })} />
      <Panel top={panelTops[1]} data={e20} domain={[5, 1e4]} log ticks={e20Ticks}
        tick={RightLabel(e20Labels, { pow: true })}>
        <Line
          xAxisId="b"
          yAxisId="l"
          data={toRows(e20Floor)}
          dataKey="v"
          type="linear"
          stroke={BLUE}
          strokeWidth={4}
          dot={false}
          isAnimationActive={false}
        />
      </Panel>
      <Panel top={panelTops[2]} data={vsw} domain={[300, 600]} ticks={[400, 500]} tick={RightLabel([400])} />
      <Panel top={panelTops[3]} data={nsw} domain={[0, 60]} ticks={[0, 15, 30, 45]} tick={RightLabel([0, 30])} />
      <Panel top={panelTops[4]} data={psw} domain={[0, 15]} ticks={[0, 5, 10]} tick={RightLabel([0, 10])} />
      <Panel top={panelTops[5]} data={imfBo} domain={[0, 20]} ticks={[0, 5, 10, 15]} tick={RightLabel([0, 10])} />
      <Panel top={panelTops[6]} data={imfBx} domain={[-15, 15]} ticks={bTicks} tick={RightLabel([-10, 0, 10])} zero />
      <Panel top={panelTops[7]} data={imfBy} domain={[-15, 15]} ticks={bTicks} tick={RightLabel([-10, 0, 10])} zero />
      <Panel top={panelTops[8]} data={imfBz} domain={[-15, 15]} ticks={bTicks} tick={RightLabel([-10, 0, 10])} zero />
      <Panel top={panelTops[9]} data={symH} domain={[-100, 50]} ticks={[-100, -50, 0]} tick={RightLabel([-100, 0])}
        zero lineColor="#6a6ae0" />
      <Panel top={panelTops[10]} data={ae} domain={[0, 1400]} ticks={[0, 500, 1000]}
        tick={RightLabel([0, 1000], { shift: { '0': -6 } })} showX>
        <ReferenceLine
          xAxisId="b"
          yAxisId="l"
          segment={[
            { x: aeArrow.from, y: aeArrow.level },
            { x: aeArrow.to, y: aeArrow.level },
          ]}
          stroke="#111"
          strokeWidth={1}
        />
        <ReferenceDot xAxisId="b" yAxisId="l" x={aeArrow.from} y={aeArrow.level} shape={arrowHead('left')} />
        <ReferenceDot xAxisId="b" yAxisId="l" x={aeArrow.to} y={aeArrow.level} shape={arrowHead('right')} />
      </Panel>

      {/* vertical event lines across all panels */}
      <div style={{ position: 'absolute', left: 0, top: 15, pointerEvents: 'none' }}>
        <LineChart
          width={589}
          height={778 - 15}
          data={[{ t: X_MIN, y: 0 }, { t: X_MAX, y: 1 }]}
          margin={{ top: 0, bottom: 0, left: PLOT_LEFT, right: PLOT_RIGHT_GAP }}
        >
          <XAxis xAxisId="o" dataKey="t" type="number" domain={[X_MIN, X_MAX]} hide />
          <YAxis yAxisId="o" domain={[0, 1]} hide />
          <Line xAxisId="o" yAxisId="o" dataKey="y" stroke="none" dot={false} isAnimationActive={false} />
          <ReferenceLine xAxisId="o" yAxisId="o" x={shockLine} stroke="#222" strokeWidth={1} />
          {redLines.map((d) => (
            <ReferenceLine key={d} xAxisId="o" yAxisId="o" x={d} stroke="#e23a3a" strokeWidth={1} />
          ))}
          <ReferenceLine xAxisId="o" yAxisId="o" x={grayLine} stroke="#777" strokeWidth={1} />
        </LineChart>
      </div>

      {panelNames.map((p) => (
        <div
          key={p.text}
          style={{
            position: 'absolute',
            right: 589 - 525,
            top: p.cy - 10,
            fontSize: 16,
            lineHeight: '20px',
            color: INK,
            whiteSpace: 'nowrap',
          }}
        >
          {p.text}
        </div>
      ))}
      <div
        style={{
          position: 'absolute',
          left: 0,
          width: 563,
          top: 812,
          textAlign: 'center',
          fontSize: 15,
          lineHeight: '20px',
          color: INK,
        }}
      >
        Day of year 1998
      </div>
    </div>
  );
}
